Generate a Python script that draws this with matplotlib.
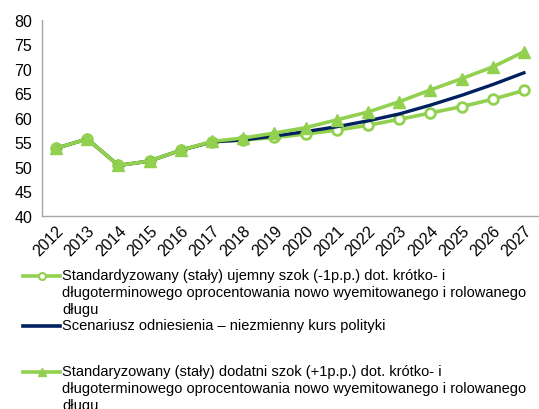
import matplotlib.pyplot as plt
from matplotlib.lines import Line2D

plt.rcParams["font.family"] = ["Liberation Sans", "DejaVu Sans"]

years = list(range(2012, 2028))
neg_shock = [53.8, 55.7, 50.3, 51.2, 53.4, 55.1, 55.5, 56.0, 56.7, 57.5,
             58.5, 59.7, 61.0, 62.3, 63.8, 65.6]
baseline = [53.8, 55.7, 50.3, 51.2, 53.4, 55.1, 55.5, 56.3, 57.2, 58.2,
            59.4, 60.8, 62.6, 64.6, 66.8, 69.2]
pos_shock = [53.8, 55.7, 50.3, 51.2, 53.4, 55.2, 55.9, 56.9, 58.0, 59.6,
             61.2, 63.3, 65.7, 68.0, 70.4, 73.5]

labels = [
    "Standardyzowany (stały) ujemny szok (-1p.p.) dot. krótko- i\n"
    "długoterminowego oprocentowania nowo wyemitowanego i rolowanego\n"
    "długu",
    "Scenariusz odniesienia – niezmienny kurs polityki",
    "Standaryzowany (stały) dodatni szok (+1p.p.) dot. krótko- i\n"
    "długoterminowego oprocentowania nowo wyemitowanego i rolowanego\n"
    "długu",
]

GREEN = "#92D050"
NAVY = "#002060"

fig = plt.figure(figsize=(5.39, 4.10), dpi=100)
ax = fig.add_axes([0.078, 0.471, 0.92, 0.478])

x = list(range(len(years)))
ax.plot(x, neg_shock, color=GREEN, lw=2.6, marker="o", ms=7,
        mfc="white", mec=GREEN, mew=2, zorder=2)
ax.plot(x, baseline, color=NAVY, lw=2.4, zorder=3)
ax.plot(x, pos_shock, color=GREEN, lw=2.6, marker="^", ms=9,
        mfc=GREEN, mec=GREEN, zorder=4)

ax.set_ylim(40, 80)
ax.set_yticks(range(40, 81, 5))
ax.set_xlim(-0.45, len(years) - 0.55)
ax.set_xticks(x)
ax.set_xticklabels([str(y) for y in years], rotation=45, ha="right",
                   rotation_mode="anchor")
ax.tick_params(axis="both", length=0, labelsize=11.5, colors="black")
ax.tick_params(axis="x", pad=5)
ax.tick_params(axis="y", pad=7)
for side in ["top", "right"]:
    ax.spines[side].set_visible(False)
for side in ["left", "bottom"]:
    ax.spines[side].set_color("#A6A6A6")
    ax.spines[side].set_linewidth(1)

# manual legend
W, H = 539, 410
entries = [
    (277, GREEN, dict(marker="o", mfc="white", mec=GREEN, ms=5, mew=1.5)),
    (327, NAVY, None),
    (373, GREEN, dict(marker="^", mfc=GREEN, mec=GREEN, ms=6)),
]
for (ypix, color, mstyle), label in zip(entries, labels):
    yf = 1 - ypix / H
    fig.add_artist(Line2D([23 / W, 60 / W], [yf, yf], lw=2.6, color=color,
                          transform=fig.transFigure))
    if mstyle:
        fig.add_artist(Line2D([41.5 / W], [yf], lw=0, color=color,
                              transform=fig.transFigure, **mstyle))
    fig.text(62 / W, yf + 8 / H, label, ha="left", va="top", fontsize=10.5,
             linespacing=1.27)

fig.savefig("out.png", dpi=100)
